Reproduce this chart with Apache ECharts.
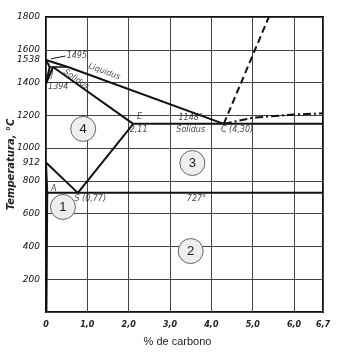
<!DOCTYPE html>
<html><head><meta charset="utf-8">
<script src="https://cdn.jsdelivr.net/npm/echarts@6/dist/echarts.min.js"></script>
<style>html,body{margin:0;padding:0;background:#fff}#c{width:352px;height:352px}</style>
</head><body><div id="c"></div>
<script>
// Tick labels
const yTickValues = [200, 400, 600, 800, 912, 1000, 1200, 1400, 1538, 1600, 1800];
const xTickValues = [0, 1, 2, 3, 4, 5, 6, 6.7];

// Phase boundary lines (% C, °C)
const liquidus = [[0, 1538], [0.53, 1495], [4.3, 1148]];
const solidusDelta = [[0, 1538], [0.09, 1495]];
const peritectic = [[0.09, 1495], [0.53, 1495]];
const deltaGammaA = [[0, 1394], [0.09, 1495]];
const deltaGammaB = [[0, 1394], [0.17, 1495]];
const solidus = [[0.17, 1495], [2.11, 1148]];
const eutectic = [[2.11, 1148], [6.7, 1148]];
const acm = [[0.77, 727], [2.11, 1148]];
const a3 = [[0, 912], [0.77, 727]];
const gp = [[0, 912], [0.03, 727]];
const pq = [[0.03, 727], [0.01, 0]];
const a1 = [[0.03, 727], [6.7, 727]];
const cementiteLiquidus = [[4.3, 1148], [5.39, 1800]];
const dashDotLine = [[4.3, 1148], [5.0, 1185], [6.0, 1205], [6.7, 1212]];
const leader = [[0.12, 1545], [0.47, 1562]];

// Region markers
const regions = [[0.9, 1117, '4'], [0.41, 641, '1'], [3.54, 909, '3'], [3.5, 372, '2']];

// Text annotations [x, y, text, rotate, align]
const notes = [
  [0.5, 1560, '1495', 0, 'left'],
  [0.15, 1445, 'J', 0, 'center'],
  [0.05, 1373, '1394', 0, 'left'],
  [1.41, 1466, 'Liquidus', -20, 'center'],
  [0.73, 1420, 'Solidus', -35, 'center'],
  [2.26, 1190, 'E', 0, 'center'],
  [2.24, 1108, '2,11', 0, 'center'],
  [3.5, 1186, '1148°', 0, 'center'],
  [3.5, 1108, 'Solidus', 0, 'center'],
  [4.62, 1108, 'C (4,30)', 0, 'center'],
  [3.64, 693, '727°', 0, 'center'],
  [1.07, 693, 'S (0,77)', 0, 'center'],
  [0.19, 752, 'A', 0, 'center']
];

function lineSeries(data, opts) {
  return Object.assign({
    type: 'line', data: data, symbol: 'none', silent: true,
    lineStyle: { color: '#111', width: 2 }, z: 5
  }, opts || {});
}

const series = [
  lineSeries(liquidus), lineSeries(solidusDelta), lineSeries(peritectic, {lineStyle:{color:'#111',width:1.5}}),
  lineSeries(deltaGammaA), lineSeries(deltaGammaB), lineSeries(solidus),
  lineSeries(eutectic), lineSeries(acm), lineSeries(a3), lineSeries(gp), lineSeries(pq),
  lineSeries(a1),
  lineSeries(cementiteLiquidus, { lineStyle: { color: '#111', width: 2, type: [7, 4] } }),
  lineSeries(dashDotLine, { lineStyle: { color: '#111', width: 2, type: [8, 3, 2, 3] } }),
  lineSeries(leader, { lineStyle: { color: '#111', width: 1 } }),
  {
    type: 'scatter', silent: true, z: 10,
    data: regions.map(r => ({ value: [r[0], r[1]], name: r[2] })),
    symbolSize: 25,
    itemStyle: { color: '#eeeeee', borderColor: '#666', borderWidth: 1, opacity: 1 },
    label: { show: true, position: 'inside', formatter: p => p.name,
      color: '#222', fontSize: 13, fontFamily: 'Liberation Sans' }
  },
  {
    type: 'scatter', silent: true, z: 12, symbolSize: 0,
    data: notes.map(n => ({ value: [n[0], n[1]], name: n[2],
      label: { rotate: n[3], align: n[4] } })),
    label: { show: true, position: 'inside', formatter: p => p.name,
      color: '#111', fontSize: 8, fontStyle: 'italic', fontFamily: 'DejaVu Sans',
      verticalAlign: 'middle' }
  }
];

const chart = echarts.init(document.getElementById('c'));
chart.setOption({
  animation: false,
  backgroundColor: '#fff',
  grid: { left: 46, right: 29, top: 17, bottom: 40, show: true,
    containLabel: false, outerBoundsMode: 'none',
    borderColor: '#111', borderWidth: 2, backgroundColor: 'transparent' },
  xAxis: {
    type: 'value', min: 0, max: 6.7, interval: 1,
    name: '% de carbono', nameLocation: 'middle', nameGap: 24, nameMoveOverlap: false,
    nameTextStyle: { fontSize: 11, color: '#222', fontFamily: 'Liberation Sans', padding: [0, 14, 0, 0] },
    axisLine: { show: false }, axisTick: { show: false },
    splitLine: { show: true, lineStyle: { color: '#444', width: 1 } },
    axisLabel: { customValues: xTickValues, margin: 9,
      formatter: v => (Math.round(v * 10) / 10 === 0 ? '0' : (Math.round(v * 10) / 10).toFixed(1).replace('.', ',')),
      fontSize: 8, fontStyle: 'italic', fontWeight: 'bold', color: '#222', fontFamily: 'DejaVu Sans' }
  },
  yAxis: {
    type: 'value', min: 0, max: 1800, interval: 200,
    name: 'Temperatura, °C', nameLocation: 'middle', nameGap: 30, nameMoveOverlap: false,
    nameTextStyle: { fontSize: 10, fontStyle: 'italic', fontWeight: 'bold', color: '#222', fontFamily: 'DejaVu Sans' },
    axisLine: { show: false }, axisTick: { show: false },
    splitLine: { show: true, lineStyle: { color: '#444', width: 1 } },
    axisLabel: { customValues: yTickValues, margin: 6, formatter: v => String(v),
      fontSize: 9, fontStyle: 'italic', color: '#111', fontFamily: 'DejaVu Sans' }
  },
  series: series
});
</script>
</body></html>
